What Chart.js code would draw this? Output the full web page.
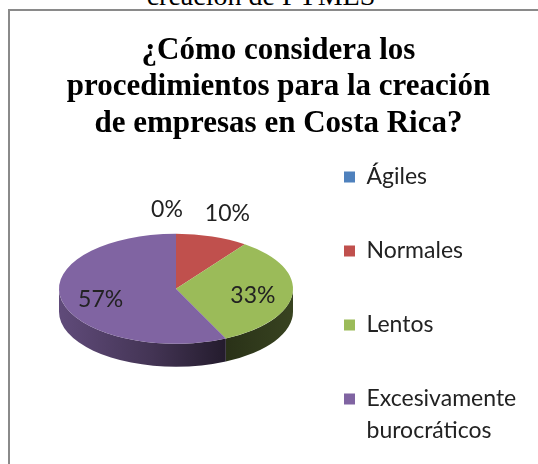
<!DOCTYPE html>
<html><head><meta charset="utf-8">
<script src="https://cdn.jsdelivr.net/npm/chart.js@4.4.1/dist/chart.umd.min.js"></script>
<style>
html,body{margin:0;padding:0;width:538px;height:464px;overflow:hidden;background:#fff;}
#cap{position:absolute;left:0;width:522px;top:-18px;text-align:center;font:28px/27px "Liberation Serif",serif;color:#000;white-space:nowrap;}
#frame{position:absolute;left:8px;top:9px;width:600px;height:600px;border-left:2px solid #8a8a8a;border-top:2px solid #8a8a8a;}
#c{position:absolute;left:10px;top:11px;}
</style></head><body>
<div id="cap">creación de PYMES</div>
<div id="frame"></div>
<canvas id="c" width="528" height="460"></canvas>
<script>
const titleLines = ['¿Cómo considera los', 'procedimientos para la creación', 'de empresas en Costa Rica?'];
const categories = ['Ágiles', 'Normales', 'Lentos', ['Excesivamente', 'burocráticos']];
const values = [0, 10, 33, 57];
const colors = ['#4F81BD', '#C0504D', '#9BBB59', '#8064A2'];

const TILT = 0.47, DEPTH = 23;
function shade(hex, k) {
  const n = parseInt(hex.slice(1), 16);
  const r = (n >> 16) & 255, g = (n >> 8) & 255, b = n & 255;
  return 'rgb(' + Math.round(r * k) + ',' + Math.round(g * k) + ',' + Math.round(b * k) + ')';
}
const pie3d = {
  id: 'pie3d',
  afterLayout(chart) {
    // let the legend text run to the canvas edge instead of being clipped
    const lg = chart.legend;
    if (lg) { lg.right = chart.width; lg.width = lg.right - lg.left; }
  },
  beforeDatasetsDraw(chart) {
    const ctx = chart.ctx;
    const meta = chart.getDatasetMeta(0);
    const a0 = meta.data[0];
    const cx = a0.x, cy = a0.y, r = a0.outerRadius, ry = r * TILT;
    ctx.save();
    meta.data.forEach((arc, i) => {
      const s = Math.max(arc.startAngle, 0), e = Math.min(arc.endAngle, Math.PI);
      if (e <= s) return;
      const base = chart.data.datasets[0].backgroundColor[i];
      const g = ctx.createLinearGradient(cx - r, 0, cx + r, 0);
      g.addColorStop(0, shade(base, 0.75));
      g.addColorStop(0.4, shade(base, 0.52));
      g.addColorStop(0.72, shade(base, 0.27));
      g.addColorStop(1, shade(base, 0.36));
      ctx.beginPath();
      ctx.ellipse(cx, cy, r, ry, 0, s, e, false);
      ctx.ellipse(cx, cy + DEPTH, r, ry, 0, e, s, true);
      ctx.closePath();
      ctx.fillStyle = g;
      ctx.fill();
    });
    ctx.restore();
    ctx.save();
    ctx.translate(0, cy);
    ctx.scale(1, TILT);
    ctx.translate(0, -cy);
  },
  afterDatasetsDraw(chart) {
    const ctx = chart.ctx;
    ctx.restore();
    const meta = chart.getDatasetMeta(0);
    const a0 = meta.data[0];
    const cx = a0.x, cy = a0.y, r = a0.outerRadius, ry = r * TILT;
    const data = chart.data.datasets[0].data;
    const total = data.reduce((a, b) => a + b, 0);
    ctx.save();
    ctx.font = '23px Lato';
    ctx.fillStyle = '#222';
    ctx.textAlign = 'center';
    ctx.textBaseline = 'middle';
    const items = meta.data.map((arc, i) => {
      const pct = data[i] / total;
      const mid = (arc.startAngle + arc.endAngle) / 2;
      const c = Math.cos(mid), s = Math.sin(mid);
      const txt = Math.round(pct * 100) + '%';
      const out = pct < 0.15;
      let x, y;
      if (out) { x = cx + c * (r + 20); y = cy + s * (ry + 24); }
      else { x = cx + c * r * 0.66; y = cy + s * ry * 0.66 + 3; }
      return { txt, x, y, out, w: ctx.measureText(txt).width };
    });
    const outs = items.filter(o => o.out).sort((a, b) => a.x - b.x);
    for (let i = 1; i < outs.length; i++) {
      const a = outs[i - 1], b = outs[i];
      const gap = (b.x - b.w / 2) - (a.x + a.w / 2);
      if (gap < 22) { const d = (22 - gap) / 2; a.x -= d; b.x += d; }
    }
    items.forEach(o => ctx.fillText(o.txt, o.x, o.y));
    ctx.restore();
  }
};

new Chart(document.getElementById('c'), {
  type: 'pie',
  data: {
    labels: categories,
    datasets: [{ data: values, backgroundColor: colors, borderWidth: 0, clip: false, hoverOffset: 0 }]
  },
  options: {
    responsive: false,
    animation: false,
    events: [],
    layout: { padding: { left: 49, right: 40, top: 0, bottom: 8 } },
    plugins: {
      tooltip: { enabled: false },
      title: {
        display: true, text: titleLines, color: '#000',
        font: { family: 'Liberation Serif', size: 31, weight: 'bold', lineHeight: 36.5 / 31 },
        padding: { top: 21.25, bottom: -27.25 }
      },
      legend: {
        position: 'right', align: 'start', fullSize: false, maxWidth: 205,
        labels: { boxWidth: 11, boxHeight: 11, padding: 51, color: '#222',
          font: { family: 'Lato', size: 23, lineHeight: 32 / 23 } }
      }
    }
  },
  plugins: [pie3d]
});
</script>
</body></html>
